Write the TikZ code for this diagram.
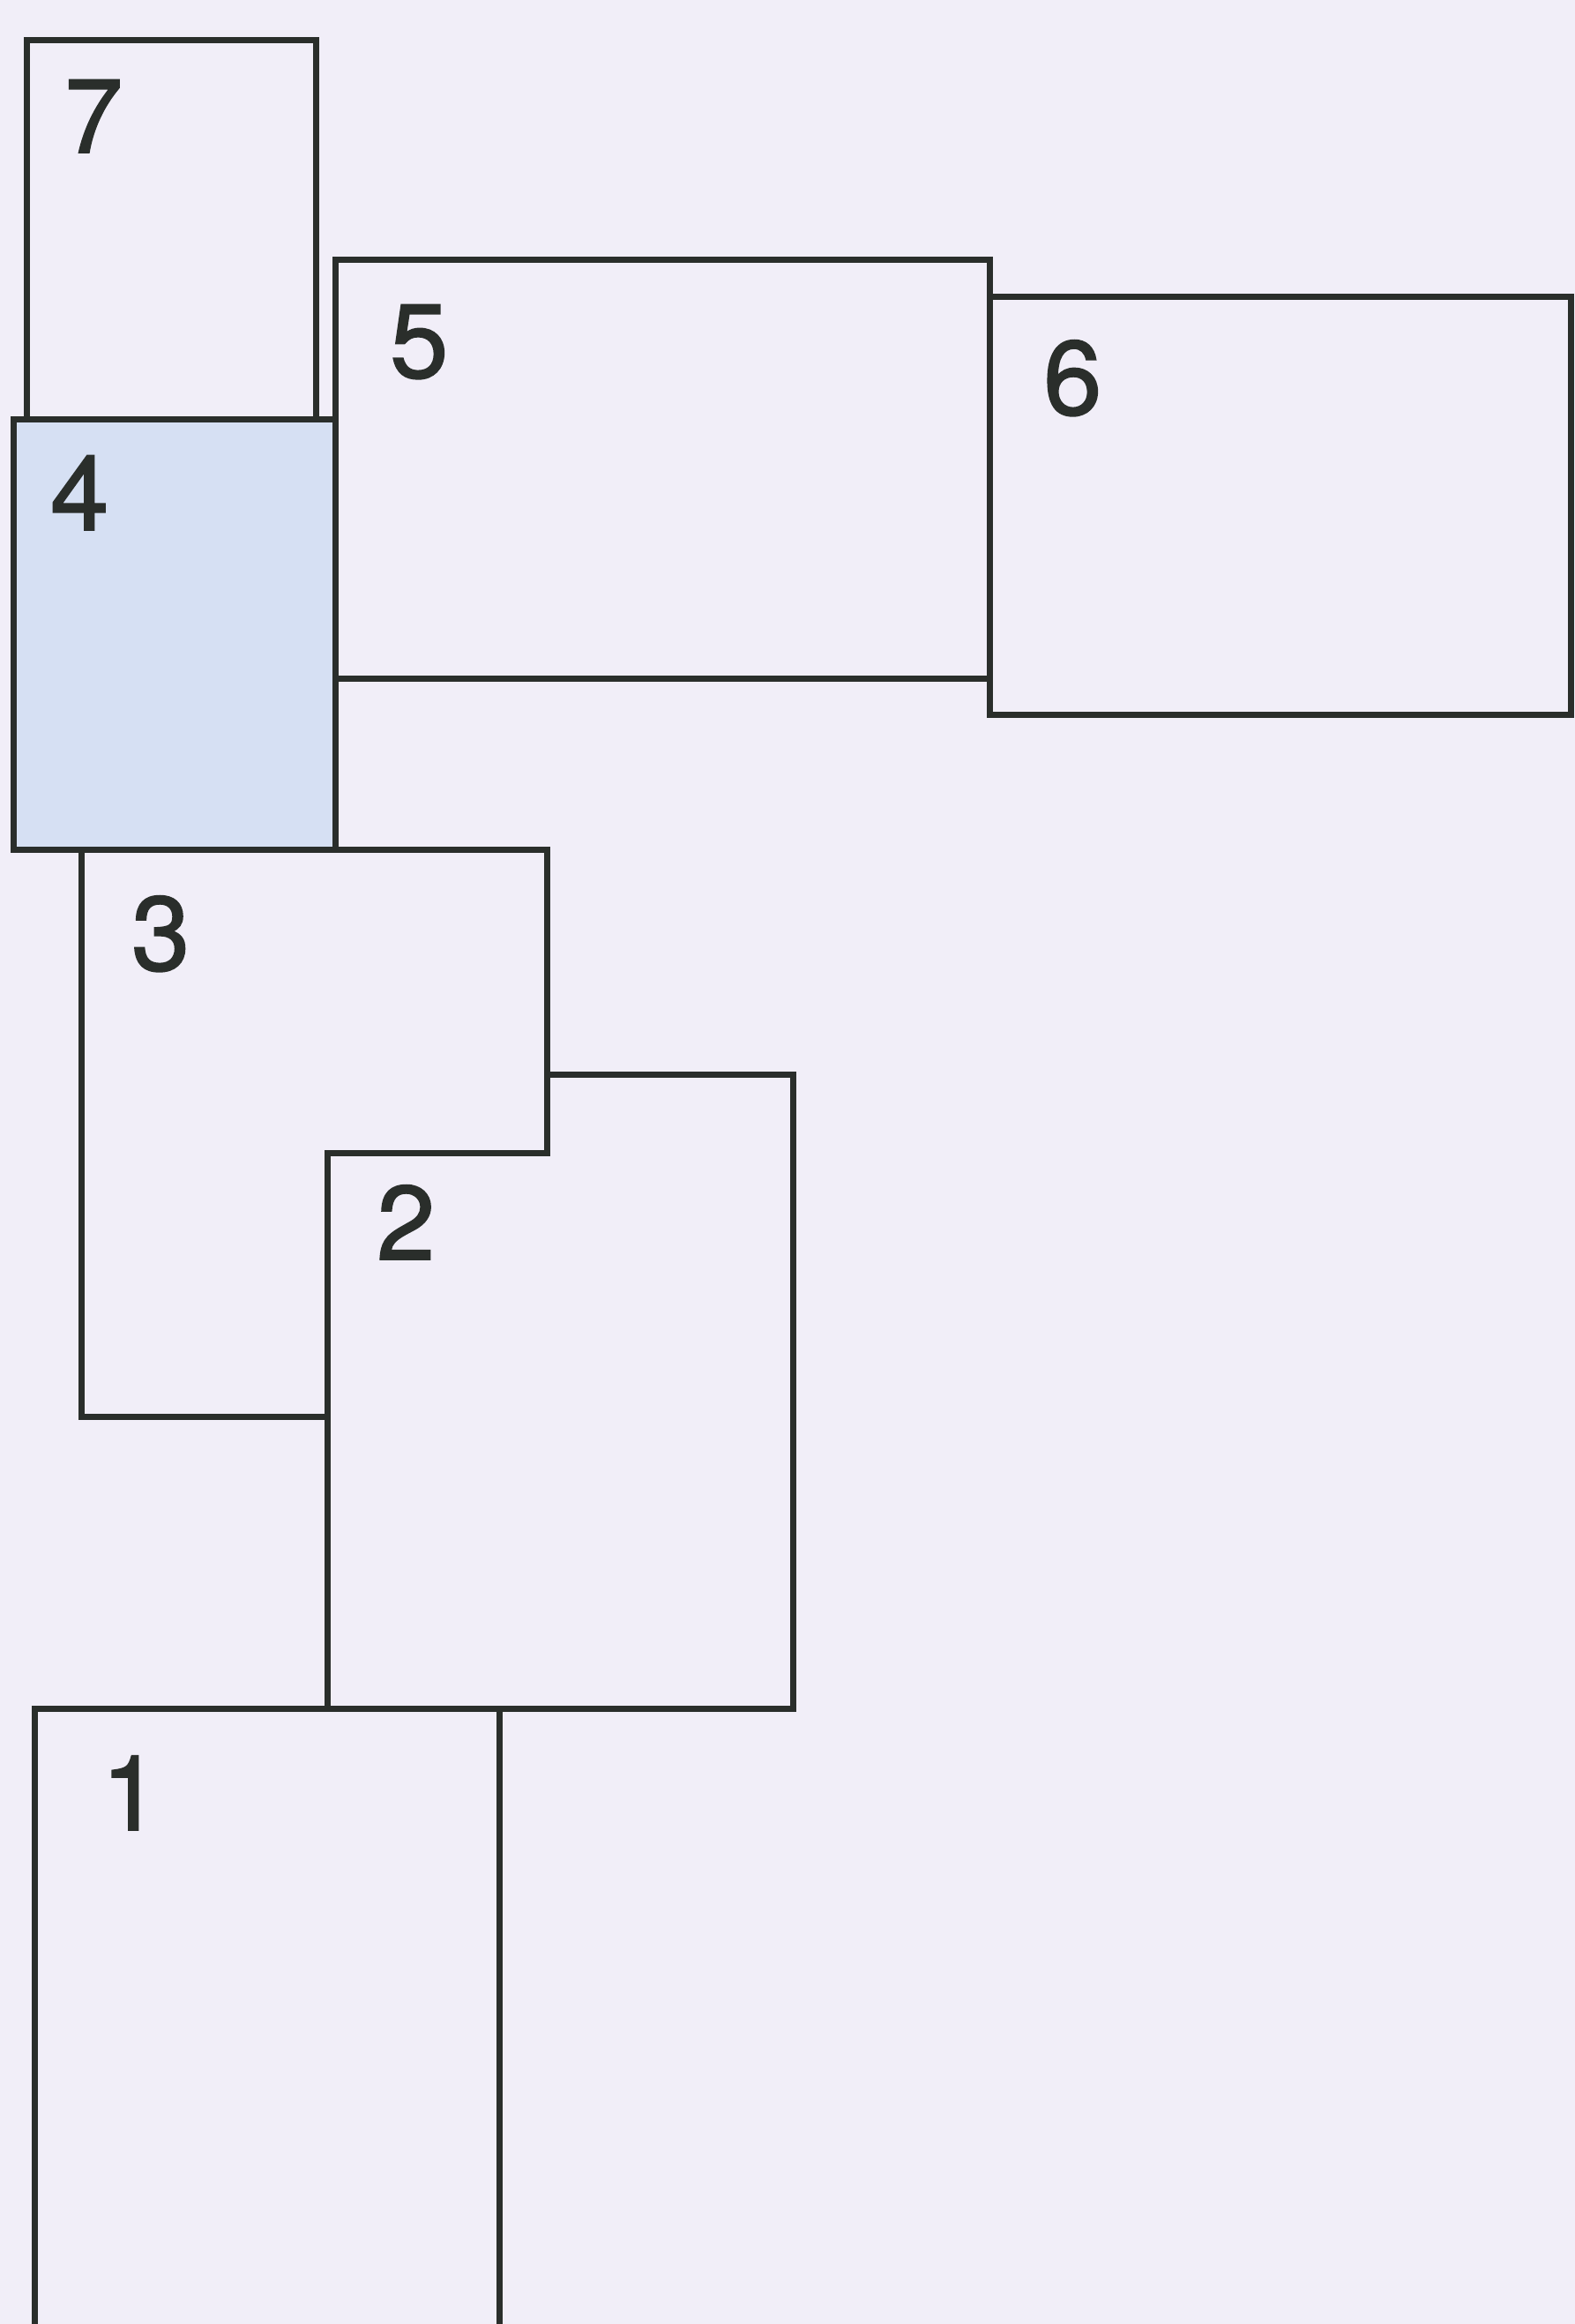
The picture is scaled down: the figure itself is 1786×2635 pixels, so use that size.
\documentclass[tikz,border=0pt]{standalone}
\usepackage{fontspec}
\setmainfont{TeX Gyre Heros}
\newfontfamily\numfont[FakeBold=1.5]{TeX Gyre Heros}
\definecolor{bg}{HTML}{F1EEF8}
\definecolor{blue4}{HTML}{D6E0F3}
\definecolor{ink}{HTML}{2A2E2B}
\tikzset{
  wall/.style={draw=ink, line width=7pt, line join=miter},
  num/.style={inner sep=0pt, anchor=base west, text=ink, font=\numfont\fontsize{119}{119}\selectfont}
}
\begin{document}
\begin{tikzpicture}[x=1pt,y=-1pt]
\path[use as bounding box, fill=bg] (0,0) rectangle (1786,2635);
% 4 (shaded)
\fill[blue4] (15,475) rectangle (380,963);
% 7
\draw[wall] (30,475) -- (30,45) -- (358,45) -- (358,475);
% 4
\draw[wall] (15,475) rectangle (380,963);
% 5
\draw[wall] (380,294) rectangle (1122,769);
% 6
\draw[wall] (1122,336) rectangle (1781,810);
% 3
\draw[wall] (92,963) -- (620,963) -- (620,1307) -- (371,1307) -- (371,1606) -- (92,1606) -- cycle;
% 2
\draw[wall] (371,1307) -- (620,1307) -- (620,1218) -- (899,1218) -- (899,1937) -- (371,1937) -- cycle;
% 1
\draw[wall] (39,2650) -- (39,1937) -- (566,1937) -- (566,2650);
% labels
\node[num] (n7) at (73,173) {7};
\node[num] (n5) at (442,428) {5};
\node[num] (n6) at (1183,470) {6};
\node[num] (n4) at (57,601) {4};
\node[num] (n3) at (149,1100) {3};
\node[num] (n2) at (427,1428) {2};
\node[num] (n1) at (115,2075) {1};
\end{tikzpicture}
\end{document}
